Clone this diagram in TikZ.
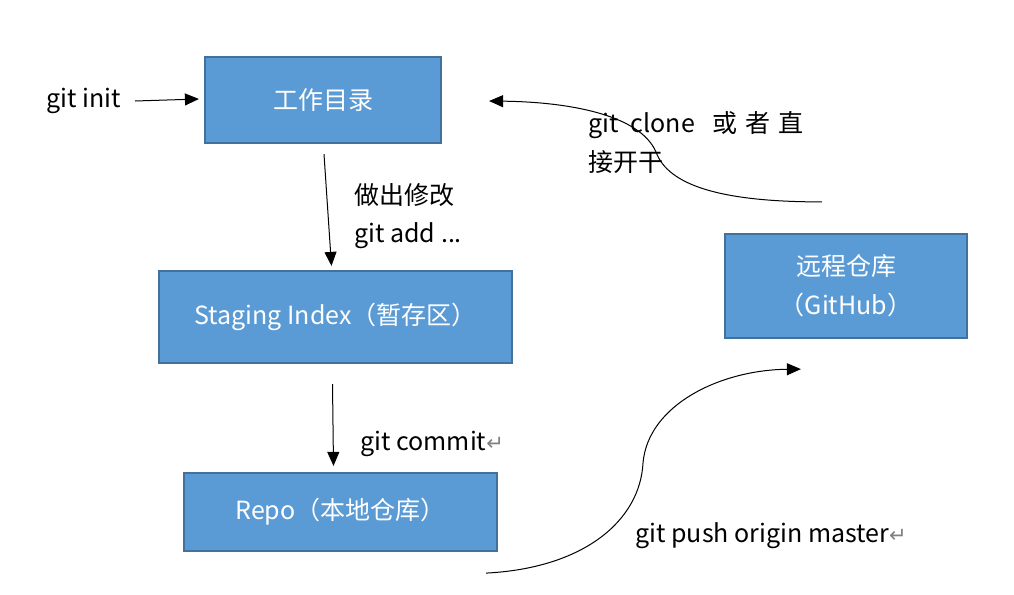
\documentclass[tikz,border=0pt]{standalone}
\usepackage{fontspec}
\setmainfont{Noto Sans CJK SC}
\newfontfamily\symfont{DejaVu Sans}
\usetikzlibrary{calc,arrows.meta}
\definecolor{boxfill}{HTML}{5B9BD5}
\definecolor{boxline}{HTML}{41719C}
\newcommand{\retmark}{{\symfont\color{gray}\fontsize{10.5}{10.5}\selectfont ↵}}

\begin{document}
\begin{tikzpicture}[x=0.5pt,y=-0.5pt,
  font=\fontsize{12.5}{19.5}\selectfont,
  stepbox/.style={draw=boxline,fill=boxfill,line width=1.1pt,text=white,
    inner sep=0pt,align=center},
  lbl/.style={anchor=west,inner sep=0pt},
  arr/.style={-{Triangle[length=7pt,width=6pt]},line width=0.5pt}]
\useasboundingbox (0,0) rectangle (1014,595);

% boxes
\node[stepbox,minimum width=118pt,minimum height=43pt] (work) at (323,100) {工作目录};
\node[stepbox,minimum width=176.5pt,minimum height=46pt] (stage) at (335.5,317) {Staging Index（暂存区）};
\node[stepbox,minimum width=156.5pt,minimum height=39pt] (repo) at (340.5,512) {Repo（本地仓库）};
\node[stepbox,minimum width=121pt,minimum height=52pt] (remote) at (846,286) {远程仓库\\（GitHub）};

% labels
\node[lbl] (initlbl) at (46,101) {git init};
\node[lbl] (editlbl) at (354,195) {做出修改};
\node[lbl] (addlbl) at (354,236) {git add ...};
\node[lbl] (commitlbl) at (360,444) {git commit\retmark};
\node[lbl,align=left] (clonelbl) at (588,143) {git\hspace{6pt}clone\hspace{9pt}或\hspace{4pt}者\hspace{4pt}直\\接开干};
\node[lbl] (pushlbl) at (635,536) {git push origin master\retmark};

% connectors
\coordinate (initsrc) at (135,101);
\draw[arr] (initsrc) -- ($(work.west)+(-5,-1)$);
\draw[arr] ($(work.south)+(1,10)$) -- ($(stage.north)+(-4,-4)$);
\draw[arr] ($(stage.south)+(-3,20)$) -- ($(repo.north)+(-7,-6)$);
\coordinate (pushsrc) at ($(repo.south east)+(-12,21)$);
\coordinate (pushdst) at ($(remote.south west)+(77,30)$);
\draw[arr] (pushsrc) .. controls (585,568) and (640,520) .. (643,463)
  .. controls (648,405) and (720,370) .. (pushdst);
\coordinate (clonesrc) at ($(remote.north west)+(98,-31)$);
\coordinate (clonedst) at ($(work.east)+(47,1)$);
\draw[arr] (clonesrc) .. controls (720,202) and (668,185) .. (656,152)
  .. controls (640,115) and (570,102) .. (clonedst);
\end{tikzpicture}
\end{document}
